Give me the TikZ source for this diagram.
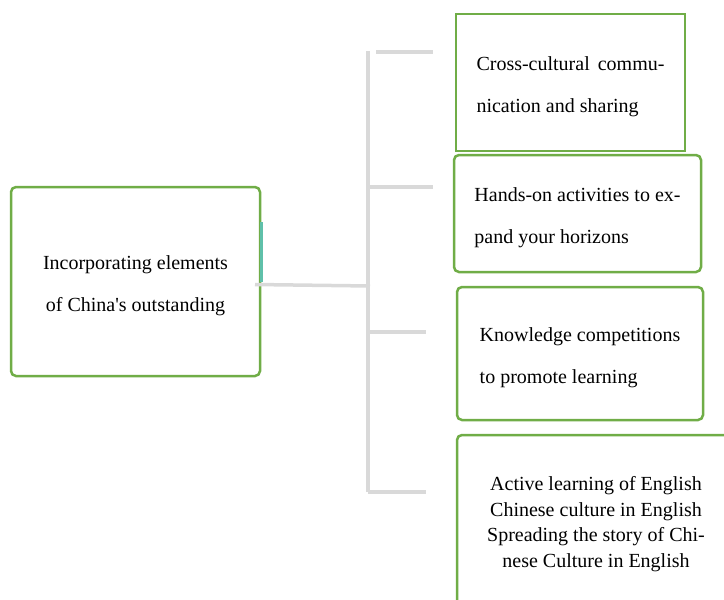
\documentclass[tikz,border=0pt]{standalone}
\usepackage{fontspec}
\setmainfont{Liberation Serif}
\definecolor{boxgreen}{RGB}{112,173,71}
\definecolor{conngray}{RGB}{217,217,217}
\definecolor{tealmark}{RGB}{95,192,170}
\begin{document}
\begin{tikzpicture}[x=1pt,y=-1pt,
  box/.style={draw=boxgreen, line width=2.5pt, fill=white, inner sep=0pt, rounded corners=5pt},
  sqbox/.style={box, sharp corners},
  txt/.style={inner sep=0pt, font=\fontsize{20}{42}\selectfont, text=black, yshift=-4pt},
  conn/.style={draw=conngray, line width=3.5pt},
  tealseg/.style={draw=tealmark, line width=2.5pt}]
\useasboundingbox (0,0) rectangle (724,600);
\clip (0,0) rectangle (724,600);
% boxes
\node[box, minimum width=249pt, minimum height=189pt] (L) at (135.5,281.5) {};
\node[sqbox, minimum width=229pt, minimum height=137pt] (B1) at (570.5,82.5) {};
\node[box, minimum width=247pt, minimum height=117pt] (B2) at (577.5,213.5) {};
\node[box, minimum width=246pt, minimum height=133pt] (B3) at (580,353.5) {};
\node[box, minimum width=278pt, minimum height=170pt] (B4) at (596,520) {};
% texts
\node[txt, align=center] (Lt) at (L.center) {Incorporating elements\\of China\textquotesingle s outstanding};
\node[txt, align=left] (B1t) at (B1.center) {Cross-cultural\hspace{3pt} commu-\\nication and sharing};
\node[txt, align=left] (B2t) at (B2.center) {Hands-on activities to ex-\\pand your horizons};
\node[txt, align=left] (B3t) at (B3.center) {Knowledge competitions\\to promote learning};
\node[txt, align=center, font=\fontsize{20}{25.5}\selectfont] (B4t) at (B4.center)
  {Active learning of English\\Chinese culture in English\\Spreading the story of Chi-\\nese Culture in English};
% teal mark on left box
\coordinate (m1) at (261.5,222);
\coordinate (m2) at (261.5,282);
\draw[tealseg] (m1) -- (m2);
% connectors
\coordinate (s) at (255,284.5);
\coordinate (j) at (370,286);
\coordinate (t1) at (368,51);
\coordinate (t4) at (368,492);
\coordinate (b1s) at (376,52);
\coordinate (b1e) at (433,52);
\coordinate (b2s) at (368,187);
\coordinate (b2e) at (433,187);
\coordinate (b3s) at (368,332);
\coordinate (b3e) at (426,332);
\coordinate (b4s) at (368,492);
\coordinate (b4e) at (426,492);
\draw[conn] (s) -- (j);
\draw[conn] (t1) -- (t4);
\draw[conn] (b1s) -- (b1e);
\draw[conn] (b2s) -- (b2e);
\draw[conn] (b3s) -- (b3e);
\draw[conn] (b4s) -- (b4e);
\end{tikzpicture}
\end{document}
